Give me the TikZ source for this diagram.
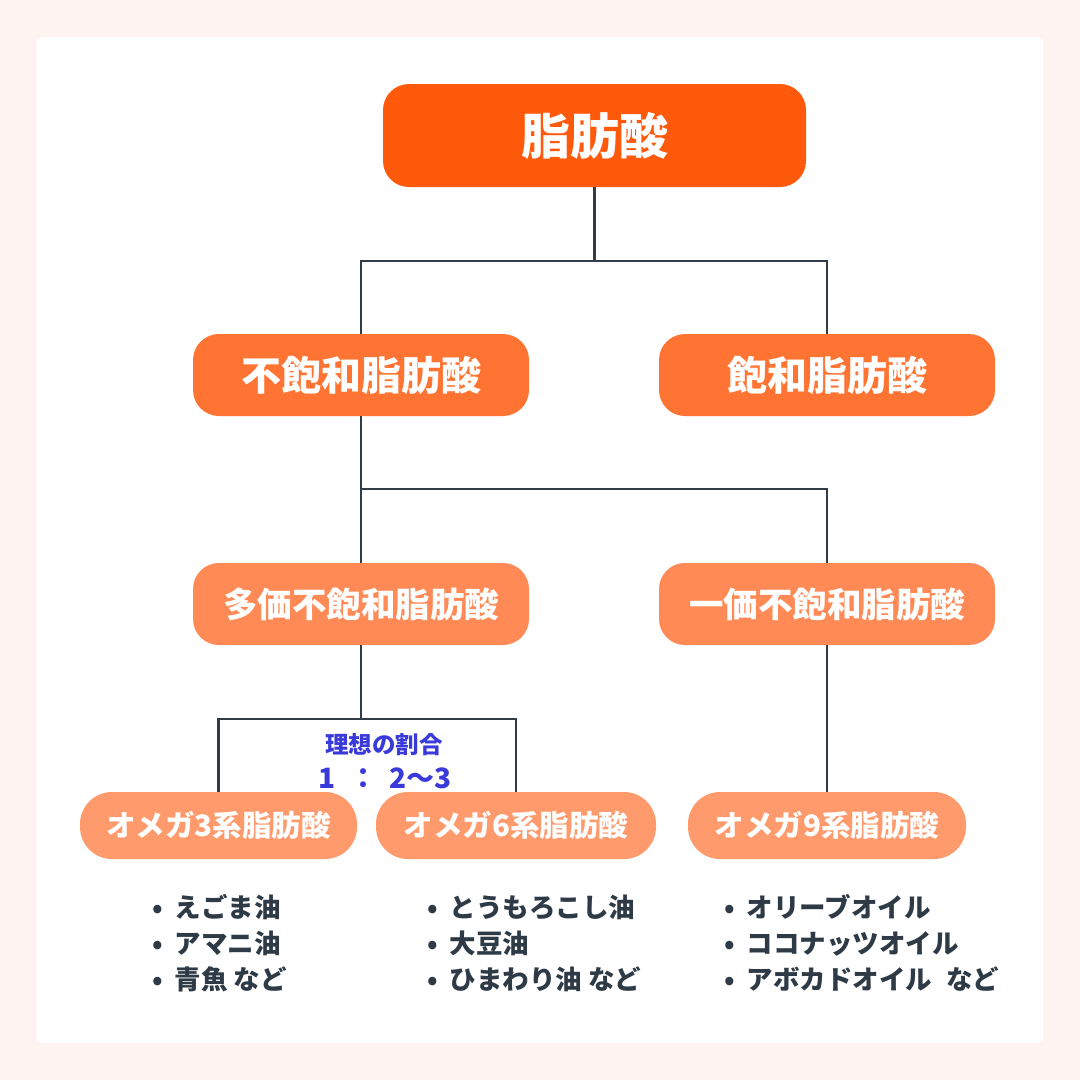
\documentclass[tikz,border=0pt]{standalone}
\usepackage{fontspec}
\setmainfont{Noto Sans CJK JP}
\definecolor{bgpink}{HTML}{FFF3F2}
\definecolor{cA}{HTML}{FF5A0C}
\definecolor{cB}{HTML}{FF7432}
\definecolor{cC}{HTML}{FF8A56}
\definecolor{cD}{HTML}{FF9A6C}
\definecolor{lineC}{HTML}{333D47}
\definecolor{txtC}{HTML}{2E3A46}
\definecolor{blueC}{HTML}{3A3ADB}
\tikzset{
  box/.style={rounded corners=26pt, inner sep=0pt, text=white, align=center},
  smallbox/.style={rounded corners=32pt, inner sep=0pt, text=white, align=center},
  conn/.style={draw=lineC, line width=2.6pt},
  listtxt/.style={text=txtC, align=left, inner sep=0pt, font=\fontsize{26.5}{36}\selectfont\bfseries},
}
\begin{document}
\begin{tikzpicture}[x=1pt,y=-1pt]
\useasboundingbox (0,0) rectangle (1080,1080);
\fill[bgpink] (0,0) rectangle (1080,1080);
\fill[white, rounded corners=4pt] (37,37) rectangle (1043,1043);

% nodes
\node[box, fill=cA, minimum width=423pt, minimum height=103pt, font=\fontsize{49}{52}\selectfont\bfseries] (root) at (594.5,135.5) {脂肪酸};
\node[box, fill=cB, minimum width=336pt, minimum height=82pt, font=\fontsize{40}{44}\selectfont\bfseries] (unsat) at (361,375) {不飽和脂肪酸};
\node[box, fill=cB, minimum width=336pt, minimum height=82pt, font=\fontsize{40}{44}\selectfont\bfseries] (sat) at (827,375) {飽和脂肪酸};
\node[box, fill=cC, minimum width=336pt, minimum height=82pt, font=\fontsize{34.5}{38}\selectfont\bfseries] (poly) at (361,604) {多価不飽和脂肪酸};
\node[box, fill=cC, minimum width=336pt, minimum height=82pt, font=\fontsize{34.5}{38}\selectfont\bfseries] (mono) at (827,604) {一価不飽和脂肪酸};
\node[smallbox, fill=cD, minimum width=277pt, minimum height=67pt, font=\fontsize{29.5}{33}\selectfont\bfseries] (om3) at (218.5,825.5) {オメガ3系脂肪酸};
\node[smallbox, fill=cD, minimum width=280pt, minimum height=67pt, font=\fontsize{29.5}{33}\selectfont\bfseries] (om6) at (516,825.5) {オメガ6系脂肪酸};
\node[smallbox, fill=cD, minimum width=278pt, minimum height=67pt, font=\fontsize{29.5}{33}\selectfont\bfseries] (om9) at (827,825.5) {オメガ9系脂肪酸};

% junctions
\coordinate (j1) at (594.5,261);
\coordinate (j2) at (361,489);
\coordinate (j3) at (361,719);

% connectors
\draw[conn] (root.south) -- (j1);
\draw[conn] (unsat.north) |- (j1) -| (sat.north);
\draw[conn] (unsat.south) -- (poly.north);
\draw[conn] (j2) -| (mono.north);
\draw[conn] (poly.south) -- (j3);
\draw[conn] (om3.north) |- (j3) -| (om6.north);
\draw[conn] (mono.south) -- (om9.north);

% ratio
\node[text=blueC, inner sep=0pt, font=\fontsize{23.5}{26}\selectfont\bfseries] (ratio) at (384,745) {理想の割合};
\node[text=blueC, inner sep=0pt, font=\fontsize{28}{30}\selectfont\bfseries] (ratio2) at (385,778) {1\hspace{14pt}：\hspace{12pt}2〜3};

% lists
\node[listtxt, anchor=west] (l3) at (152,943) {•\hspace{12pt}えごま油\\•\hspace{12pt}アマニ油\\•\hspace{12pt}青魚 など};
\node[listtxt, anchor=west] (l6) at (427,943) {•\hspace{12pt}とうもろこし油\\•\hspace{12pt}大豆油\\•\hspace{12pt}ひまわり油 など};
\node[listtxt, anchor=west] (l9) at (724,943) {•\hspace{12pt}オリーブオイル\\•\hspace{12pt}ココナッツオイル\\•\hspace{12pt}アボカドオイル\hspace{14pt}など};
\end{tikzpicture}
\end{document}
